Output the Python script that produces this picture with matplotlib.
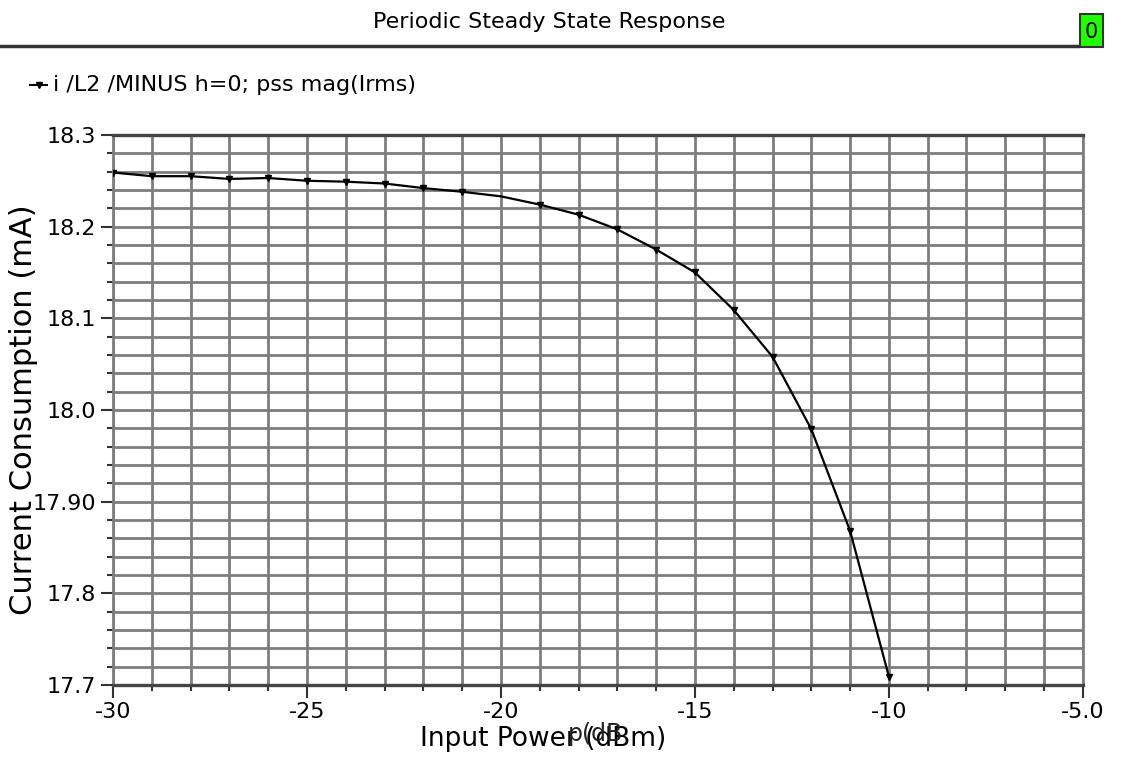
import numpy as np
import matplotlib.pyplot as plt
from matplotlib.patches import Rectangle
from matplotlib.lines import Line2D
from matplotlib.ticker import MultipleLocator

# potencia de entrada (dBm) e corrente (mA)
pin_dbm = [-30, -29, -28, -27, -26, -25, -24, -23, -22, -21, -20,
           -19, -18, -17, -16, -15, -14, -13, -12, -11, -10]
corrente_ma = [18.259, 18.255, 18.255, 18.252, 18.253, 18.250, 18.249,
               18.247, 18.242, 18.238, 18.233, 18.224, 18.213, 18.197,
               18.175, 18.150, 18.109, 18.058, 17.979, 17.868, 17.709]

y_ticks = [17.7, 17.8, 17.9, 18.0, 18.1, 18.2, 18.3]
y_tick_labels = ['17.7', '17.8', '17.90', '18.0', '18.1', '18.2', '18.3']
x_ticks = [-30, -25, -20, -15, -10, -5]
x_tick_labels = ['-30', '-25', '-20', '-15', '-10', '-5.0']

titulo = 'Periodic Steady State Response'
legenda = 'i /L2 /MINUS h=0; pss mag(Irms)'

fig = plt.figure(figsize=(11.21, 7.58), dpi=100)
ax = fig.add_axes([0.1008, 0.0963, 0.8652, 0.7257])

# grade
cinza = '#7d7d7d'
for yv in np.arange(17.7, 18.3001, 0.02):
    ax.axhline(yv, color=cinza, lw=2.0, zorder=1)
for xv in np.arange(-30, -4, 1):
    ax.axvline(xv, color=cinza, lw=2.0, zorder=1)

marcas = [i for i in range(len(pin_dbm)) if pin_dbm[i] != -20]
ax.plot(pin_dbm, corrente_ma, color='black', lw=1.6, marker='v',
        markersize=5, markevery=marcas, zorder=3)

ax.set_xlim(-30, -5)
ax.set_ylim(17.7, 18.3)

ax.set_xticks(x_ticks)
ax.set_xticklabels(x_tick_labels, fontsize=16)
ax.xaxis.set_minor_locator(MultipleLocator(1))
ax.set_yticks(y_ticks)
ax.set_yticklabels(y_tick_labels, fontsize=16)
ax.yaxis.set_minor_locator(MultipleLocator(0.02))

ax.tick_params(axis='both', which='major', direction='out', length=9,
               width=1.5, color='#333333', pad=3)
ax.tick_params(axis='both', which='minor', direction='out', length=4,
               width=1.5, color='#333333')

for lado in ['left', 'right']:
    ax.spines[lado].set_color(cinza)
    ax.spines[lado].set_linewidth(2.0)
for lado in ['top', 'bottom']:
    ax.spines[lado].set_color('#444444')
    ax.spines[lado].set_linewidth(2.4)

ax.set_ylabel('Current Consumption (mA)', fontsize=22, labelpad=-4)
ax.set_xlabel('Input Power (dBm)', fontsize=19, labelpad=0)
ax.xaxis.set_label_coords(0.443, -0.075)
# texto sobreposto no rotulo (artefato do original)
fig.text(0.507, 0.023, 'p(dB', fontsize=17, color='#222222')

# cabecalho
fig.text(0.49, 0.971, titulo, fontsize=16, ha='center', va='center')
fig.add_artist(Line2D([0, 0.962], [0.939, 0.939], color='#333333', lw=2.5))
fig.add_artist(Rectangle((0.963, 0.938), 0.021, 0.044, facecolor='#22ff00',
                         edgecolor='#333333', lw=1.5))
fig.text(0.9735, 0.958, '0', fontsize=15, ha='center', va='center')

# legenda
fig.add_artist(Line2D([0.027, 0.042], [0.888, 0.888], color='black', lw=1.5))
fig.add_artist(Line2D([0.0345], [0.888], color='black', marker='v',
                      markersize=5, lw=0))
fig.text(0.047, 0.888, legenda, fontsize=16, va='center')

fig.savefig('out.png', dpi=100)
